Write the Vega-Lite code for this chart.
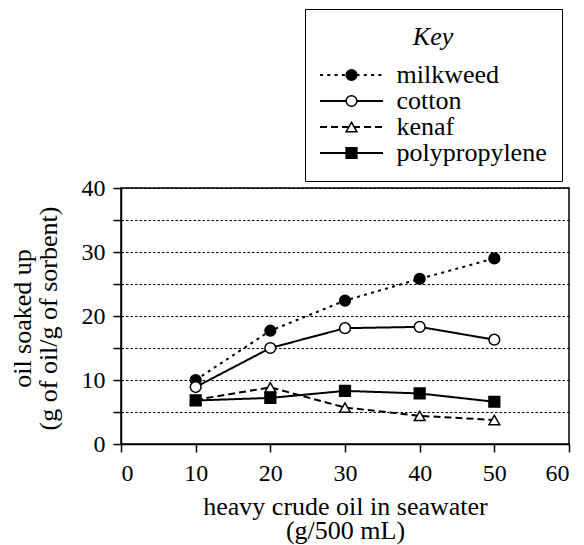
{
  "$schema": "https://vega.github.io/schema/vega-lite/v6.json",
  "width": 448,
  "height": 256,
  "autosize": {"type": "none"},
  "padding": {"left": 121, "top": 188, "right": 15, "bottom": 101},
  "background": "white",
  "config": {"view": {"stroke": "black", "strokeWidth": 1.5}, "font": "Liberation Serif, Times New Roman, DejaVu Serif, serif"},
  "data": {
    "values": [
      {"x": 10, "y": 10.0, "material": "milkweed", "key": "milkweed"},
      {"x": 20, "y": 17.7, "material": "milkweed", "key": "milkweed"},
      {"x": 30, "y": 22.4, "material": "milkweed", "key": "milkweed"},
      {"x": 40, "y": 25.8, "material": "milkweed", "key": "milkweed"},
      {"x": 50, "y": 29.0, "material": "milkweed", "key": "milkweed"},
      {"x": 10, "y": 8.9, "material": "cotton", "key": "cotton"},
      {"x": 20, "y": 15.0, "material": "cotton", "key": "cotton"},
      {"x": 30, "y": 18.1, "material": "cotton", "key": "cotton"},
      {"x": 40, "y": 18.3, "material": "cotton", "key": "cotton"},
      {"x": 50, "y": 16.3, "material": "cotton", "key": "cotton"},
      {"x": 10, "y": 6.9, "material": "kenaf", "key": "kenaf"},
      {"x": 20, "y": 8.85, "material": "kenaf", "key": "kenaf"},
      {"x": 30, "y": 5.7, "material": "kenaf", "key": "kenaf"},
      {"x": 40, "y": 4.4, "material": "kenaf", "key": "kenaf"},
      {"x": 50, "y": 3.75, "material": "kenaf", "key": "kenaf"},
      {"x": 10, "y": 6.8, "material": "polypropylene", "key": "polypropylene"},
      {"x": 20, "y": 7.2, "material": "polypropylene", "key": "polypropylene"},
      {"x": 30, "y": 8.3, "material": "polypropylene", "key": "polypropylene"},
      {"x": 40, "y": 7.9, "material": "polypropylene", "key": "polypropylene"},
      {"x": 50, "y": 6.6, "material": "polypropylene", "key": "polypropylene"}
    ]
  },
  "encoding": {
    "x": {
      "field": "x", "type": "quantitative",
      "scale": {"domain": [0, 60], "nice": false},
      "axis": {
        "values": [0, 10, 20, 30, 40, 50, 60],
        "grid": false,
        "tickSize": 8, "tickColor": "black", "tickWidth": 1.5,
        "domainColor": "black", "domainWidth": 1.5,
        "labelFont": "Liberation Serif, Times New Roman, DejaVu Serif, serif", "labelFontSize": 24, "labelColor": "black", "labelPadding": 9,
        "title": ["heavy crude oil in seawater", "(g/500 mL)"],
        "titleFont": "Liberation Serif, Times New Roman, DejaVu Serif, serif", "titleFontSize": 26, "titleFontWeight": "normal", "titleColor": "black",
        "titleX": 224, "titleY": 70, "titleAlign": "center", "titleBaseline": "alphabetic", "titleLineHeight": 24
      }
    },
    "y": {
      "field": "y", "type": "quantitative",
      "scale": {"domain": [0, 40], "nice": false},
      "axis": {
        "values": [0, 5, 10, 15, 20, 25, 30, 35, 40],
        "labelExpr": "datum.value % 10 === 0 ? datum.label : ''",
        "grid": true, "gridDash": [2.5, 2], "gridColor": "black", "gridWidth": 1, "gridOpacity": 1,
        "tickSize": 8, "tickColor": "black", "tickWidth": 1.5,
        "domainColor": "black", "domainWidth": 1.5,
        "labelFont": "Liberation Serif, Times New Roman, DejaVu Serif, serif", "labelFontSize": 24, "labelColor": "black", "labelPadding": 8,
        "title": ["oil soaked up", "(g of oil/g of sorbent)"],
        "titleFont": "Liberation Serif, Times New Roman, DejaVu Serif, serif", "titleFontSize": 26, "titleFontWeight": "normal", "titleColor": "black",
        "titleX": -91, "titleY": 130, "titleAngle": 270, "titleAlign": "center", "titleBaseline": "alphabetic", "titleLineHeight": 26
      }
    }
  },
  "layer": [
    {
      "mark": {"type": "line", "color": "black", "strokeWidth": 2, "strokeCap": "butt"},
      "encoding": {
        "strokeDash": {
          "field": "material", "type": "nominal",
          "sort": ["milkweed", "cotton", "kenaf", "polypropylene"],
          "scale": {"range": [[3, 4.3], [1, 0], [7, 4], [1, 0]]},
          "legend": {
            "orient": "none", "legendX": 184, "legendY": -179,
            "title": "Key", "titleFont": "Liberation Serif, Times New Roman, DejaVu Serif, serif", "titleFontSize": 26, "titleFontStyle": "italic",
            "titleFontWeight": "normal", "titleColor": "black", "titleAnchor": "middle", "titlePadding": 12,
            "labelFont": "Liberation Serif, Times New Roman, DejaVu Serif, serif", "labelFontSize": 26, "labelColor": "black", "labelOffset": 32, "labelLimit": 400,
            "symbolType": "M-3.15,0H3.15", "symbolSize": 400, "symbolStrokeWidth": 2, "symbolStrokeColor": "black",
            "symbolOffset": 18.5, "rowPadding": 0, "padding": 15, "strokeColor": "black"
          }
        }
      }
    },
    {
      "mark": {"type": "point", "filled": true, "size": 115, "strokeWidth": 1.5, "opacity": 1},
      "encoding": {
        "shape": {
          "field": "key", "type": "nominal",
          "scale": {"domain": ["milkweed", "cotton", "kenaf", "polypropylene"], "range": ["circle", "circle", "triangle-up", "square"]},
          "legend": {
            "orient": "none", "legendX": 184, "legendY": -179,
            "title": "Key", "titleFont": "Liberation Serif, Times New Roman, DejaVu Serif, serif", "titleFontSize": 26, "titleFontStyle": "italic",
            "titleFontWeight": "normal", "titleColor": "transparent", "titleAnchor": "middle", "titlePadding": 12,
            "labelFont": "Liberation Serif, Times New Roman, DejaVu Serif, serif", "labelFontSize": 26, "labelColor": "transparent", "labelOffset": 32, "labelLimit": 400,
            "symbolSize": 115, "symbolStrokeWidth": 1.5, "symbolStrokeColor": "black", "symbolOpacity": 1,
            "symbolOffset": 18.5, "rowPadding": 0, "padding": 15
          }
        },
        "fill": {
          "field": "key", "type": "nominal",
          "scale": {"domain": ["milkweed", "cotton", "kenaf", "polypropylene"], "range": ["black", "white", "white", "black"]},
          "legend": {
            "orient": "none", "legendX": 184, "legendY": -179,
            "title": "Key", "titleFont": "Liberation Serif, Times New Roman, DejaVu Serif, serif", "titleFontSize": 26, "titleFontStyle": "italic",
            "titleFontWeight": "normal", "titleColor": "transparent", "titleAnchor": "middle", "titlePadding": 12,
            "labelFont": "Liberation Serif, Times New Roman, DejaVu Serif, serif", "labelFontSize": 26, "labelColor": "transparent", "labelOffset": 32, "labelLimit": 400,
            "symbolSize": 115, "symbolStrokeWidth": 1.5, "symbolStrokeColor": "black", "symbolOpacity": 1,
            "symbolOffset": 18.5, "rowPadding": 0, "padding": 15
          }
        },
        "stroke": {
          "field": "key", "type": "nominal",
          "scale": {"domain": ["milkweed", "cotton", "kenaf", "polypropylene"], "range": ["black", "black", "black", "black"]},
          "legend": {
            "orient": "none", "legendX": 184, "legendY": -179,
            "title": "Key", "titleFont": "Liberation Serif, Times New Roman, DejaVu Serif, serif", "titleFontSize": 26, "titleFontStyle": "italic",
            "titleFontWeight": "normal", "titleColor": "transparent", "titleAnchor": "middle", "titlePadding": 12,
            "labelFont": "Liberation Serif, Times New Roman, DejaVu Serif, serif", "labelFontSize": 26, "labelColor": "transparent", "labelOffset": 32, "labelLimit": 400,
            "symbolSize": 115, "symbolStrokeWidth": 1.5, "symbolStrokeColor": "black", "symbolOpacity": 1,
            "symbolOffset": 18.5, "rowPadding": 0, "padding": 15
          }
        }
      }
    }
  ]
}
